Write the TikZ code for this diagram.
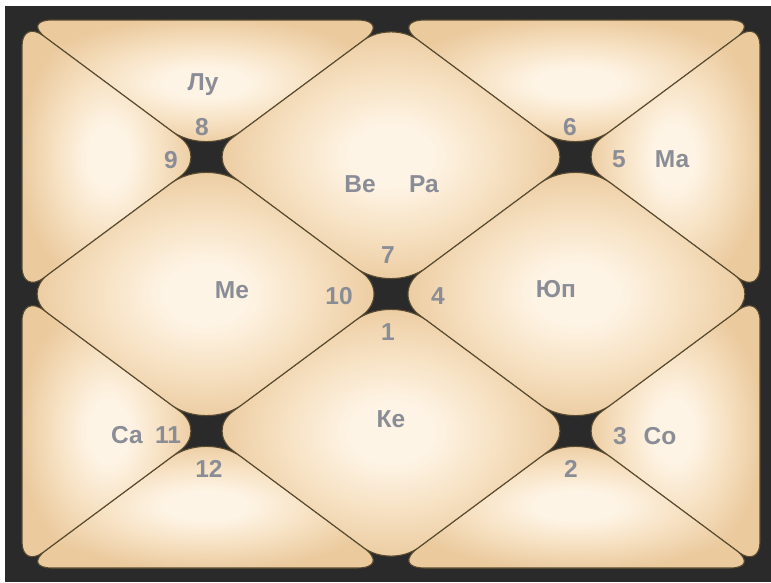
\documentclass[tikz,border=0pt]{standalone}
\usepackage{fontspec}
\setmainfont{Liberation Sans}
\usetikzlibrary{calc}
\definecolor{bgdark}{RGB}{42,42,42}
\definecolor{tilein}{RGB}{254,244,229}
\definecolor{tilemid}{RGB}{247,226,196}
\definecolor{tileout}{RGB}{235,202,158}
\definecolor{seam}{RGB}{88,75,48}
\definecolor{lblgray}{RGB}{138,141,150}
\pgfdeclareradialshading{tileglow}{\pgfpoint{0bp}{0bp}}{color(0bp)=(tilein); color(6bp)=(tilein); color(15bp)=(tilemid); color(26bp)=(tileout); color(50bp)=(tileout)}
\newcommand\rcorner[4]{($(#2)!#4!(#1)$) .. controls ($(#2)!0.45*#4!(#1)$) and ($(#2)!0.45*#4!(#3)$) .. ($(#2)!#4!(#3)$)}
\newcommand\tritile[6]{\shadedraw[tile] \rcorner{#5}{#1}{#3}{#2} -- \rcorner{#1}{#3}{#5}{#4} -- \rcorner{#3}{#5}{#1}{#6} -- cycle;}
\newcommand\quadtile[8]{\shadedraw[tile] \rcorner{#7}{#1}{#3}{#2} -- \rcorner{#1}{#3}{#5}{#4} -- \rcorner{#3}{#5}{#7}{#6} -- \rcorner{#5}{#7}{#1}{#8} -- cycle;}
\begin{document}
\begin{tikzpicture}[x=1pt,y=-1pt,
  tile/.style={shading=tileglow, draw=seam, line width=1.1pt},
  lbl/.style={text=lblgray, font=\bfseries\fontsize{24.5}{24.5}\selectfont, inner sep=0pt, anchor=base}]
\useasboundingbox (0,0) rectangle (771,582);
\fill[white] (0,0) rectangle (771,582);
\fill[bgdark] (5,6) rectangle (771,582);
\coordinate (A) at (22,20);
\coordinate (B) at (760,20);
\coordinate (C) at (760,568);
\coordinate (D) at (22,568);
\coordinate (MT) at (391,20);
\coordinate (MB) at (391,568);
\coordinate (ML) at (22,294);
\coordinate (MR) at (760,294);
\coordinate (O) at (391,294);
\coordinate (Q1) at (206.5,157);
\coordinate (Q2) at (575.5,157);
\coordinate (Q3) at (206.5,431);
\coordinate (Q4) at (575.5,431);
% triangles
\tritile{A}{30pt}{MT}{34pt}{Q1}{44pt}
\tritile{A}{26pt}{Q1}{33pt}{ML}{27pt}
\tritile{MT}{34pt}{B}{30pt}{Q2}{44pt}
\tritile{B}{26pt}{MR}{27pt}{Q2}{33pt}
\tritile{MR}{27pt}{C}{26pt}{Q4}{33pt}
\tritile{C}{30pt}{MB}{34pt}{Q4}{44pt}
\tritile{MB}{34pt}{D}{30pt}{Q3}{44pt}
\tritile{D}{26pt}{ML}{27pt}{Q3}{33pt}
% diamonds
\quadtile{MT}{34pt}{Q2}{33pt}{O}{44pt}{Q1}{33pt}
\quadtile{Q2}{44pt}{MR}{32pt}{Q4}{44pt}{O}{36pt}
\quadtile{O}{44pt}{Q4}{33pt}{MB}{34pt}{Q3}{33pt}
\quadtile{ML}{32pt}{Q1}{44pt}{O}{36pt}{Q3}{44pt}
% labels
\node[lbl] (lu) at (203,90) {Лу};
\node[lbl] (n8) at (202,135) {8};
\node[lbl] (n9) at (171,168) {9};
\node[lbl] (n6) at (570,135) {6};
\node[lbl] (n5) at (619,167) {5};
\node[lbl] (ma) at (672,167) {Ма};
\node[lbl] (ve) at (360,192) {Ве};
\node[lbl] (ra) at (424,192) {Ра};
\node[lbl] (n7) at (388,263) {7};
\node[lbl] (me) at (232,298) {Ме};
\node[lbl] (n10) at (339,304) {10};
\node[lbl] (n4) at (438,304) {4};
\node[lbl] (yup) at (556,297) {Юп};
\node[lbl] (n1) at (388,340) {1};
\node[lbl] (ke) at (391,427) {Ке};
\node[lbl] (sa) at (127,443) {Са};
\node[lbl] (n11) at (168,443) {11};
\node[lbl] (n12) at (209,477) {12};
\node[lbl] (n3) at (620,444) {3};
\node[lbl] (so) at (660,444) {Со};
\node[lbl] (n2) at (571,477) {2};
\end{tikzpicture}
\end{document}
